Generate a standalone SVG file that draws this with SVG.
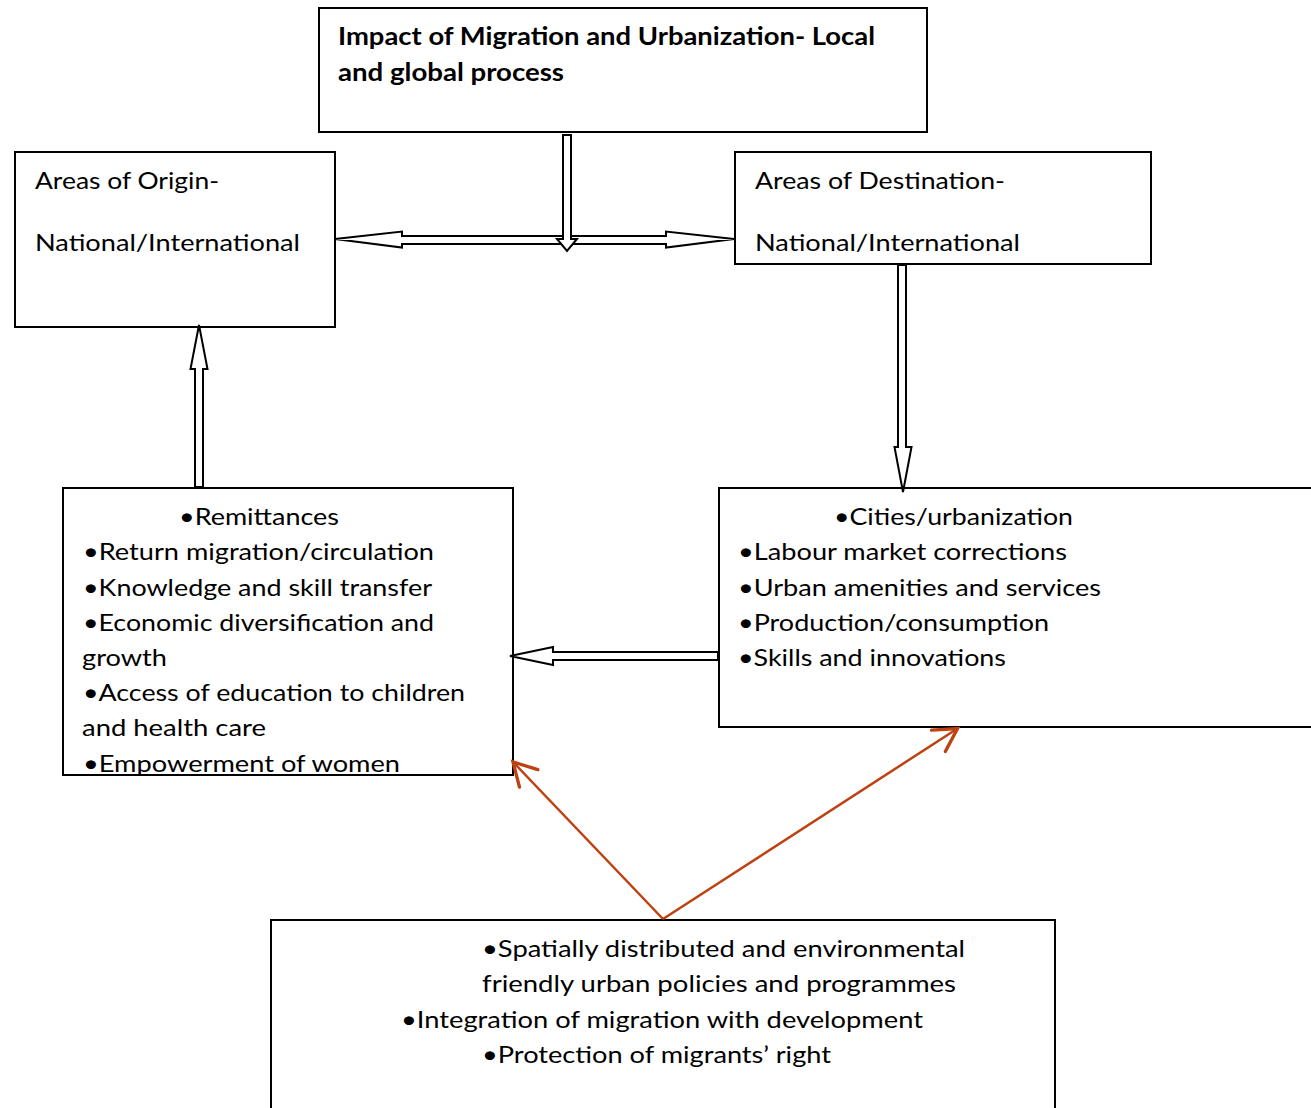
<svg xmlns="http://www.w3.org/2000/svg" width="1311" height="1108" viewBox="0 0 1311 1108">
<style>
.box{fill:#fff;stroke:#000;stroke-width:2}
.blk{fill:#fff;stroke:#000;stroke-width:2;stroke-linejoin:miter}
.t{font-family:Lato,"Open Sans","Liberation Sans",sans-serif;font-size:24px;fill:#000}
.b{font-weight:bold}
.red{fill:none;stroke:#BE4211;stroke-width:2.5}
</style>
<defs>
<marker id="ah" markerUnits="userSpaceOnUse" markerWidth="40" markerHeight="40" viewBox="-20 -15 25 30" refX="0" refY="0" orient="auto" overflow="visible">
<path d="M-17,-9.5 L0,0 L-17,9.5" fill="none" stroke="#BE4211" stroke-width="2.5" stroke-linecap="round"/>
</marker>
</defs>
<rect width="1311" height="1108" fill="#fff"/>

<g id="node-top">
<rect class="box" x="319" y="8" width="608" height="124"/>
<text class="t b" x="338" y="45" textLength="537" lengthAdjust="spacingAndGlyphs">Impact of Migration and Urbanization- Local</text>
<text class="t b" x="338" y="81" textLength="226" lengthAdjust="spacingAndGlyphs">and global process</text>
</g>

<g id="node-origin">
<rect class="box" x="15" y="152" width="320" height="175"/>
<text class="t" x="35" y="189" textLength="184" lengthAdjust="spacingAndGlyphs">Areas of Origin-</text>
<text class="t" x="35" y="251" textLength="265" lengthAdjust="spacingAndGlyphs">National/International</text>
</g>

<g id="node-destination">
<rect class="box" x="735" y="152" width="416" height="112"/>
<text class="t" x="755" y="189" textLength="250" lengthAdjust="spacingAndGlyphs">Areas of Destination-</text>
<text class="t" x="755" y="251" textLength="265" lengthAdjust="spacingAndGlyphs">National/International</text>
</g>

<g id="node-origin-effects">
<rect class="box" x="63" y="488" width="450" height="287"/>
<text class="t" x="179" y="525" textLength="160" lengthAdjust="spacingAndGlyphs">•Remittances</text>
<text class="t" x="83" y="560" textLength="351" lengthAdjust="spacingAndGlyphs">•Return migration/circulation</text>
<text class="t" x="83" y="595.5" textLength="349" lengthAdjust="spacingAndGlyphs">•Knowledge and skill transfer</text>
<text class="t" x="83" y="631" textLength="351" lengthAdjust="spacingAndGlyphs">•Economic diversification and</text>
<text class="t" x="82" y="666" textLength="85" lengthAdjust="spacingAndGlyphs">growth</text>
<text class="t" x="83" y="701" textLength="382" lengthAdjust="spacingAndGlyphs">•Access of education to children</text>
<text class="t" x="82" y="736" textLength="184" lengthAdjust="spacingAndGlyphs">and health care</text>
<text class="t" x="83" y="771.5" textLength="317" lengthAdjust="spacingAndGlyphs">•Empowerment of women</text>
</g>

<g id="node-destination-effects">
<rect class="box" x="719" y="488" width="620" height="239"/>
<text class="t" x="834" y="525" textLength="239" lengthAdjust="spacingAndGlyphs">•Cities/urbanization</text>
<text class="t" x="738" y="560" textLength="329" lengthAdjust="spacingAndGlyphs">•Labour market corrections</text>
<text class="t" x="738" y="595.5" textLength="363" lengthAdjust="spacingAndGlyphs">•Urban amenities and services</text>
<text class="t" x="738" y="631" textLength="311" lengthAdjust="spacingAndGlyphs">•Production/consumption</text>
<text class="t" x="738" y="666" textLength="268" lengthAdjust="spacingAndGlyphs">•Skills and innovations</text>
</g>

<g id="node-policies">
<rect class="box" x="271" y="920" width="784" height="200"/>
<text class="t" x="482" y="957" textLength="483" lengthAdjust="spacingAndGlyphs">•Spatially distributed and environmental</text>
<text class="t" x="482" y="992" textLength="474" lengthAdjust="spacingAndGlyphs">friendly urban policies and programmes</text>
<text class="t" x="401" y="1028" textLength="522" lengthAdjust="spacingAndGlyphs">•Integration of migration with development</text>
<text class="t" x="482" y="1063" textLength="349" lengthAdjust="spacingAndGlyphs">•Protection of migrants’ right</text>
</g>

<g id="connectors">
<polygon class="blk" points="335,239 402,231.5 402,236 666,236 666,231.5 734,239 666,247.5 666,244 402,244 402,247.5"/>
<polygon class="blk" points="563,135 571,135 571,239 577,239 567,251 557,239 563,239"/>
<polygon class="blk" points="195,487 195,369 190.5,369 199,325 207.5,369 203,369 203,487"/>
<polygon class="blk" points="898,265 906,265 906,447 911.5,447 903,492 894.5,447 898,447"/>
<polygon class="blk" points="718,652 553,652 553,647 510,656 553,665 553,660 718,660"/>
<line class="red" x1="663" y1="919" x2="513" y2="762" marker-end="url(#ah)"/>
<line class="red" x1="663" y1="919" x2="957.5" y2="728.5" marker-end="url(#ah)"/>
</g>
</svg>
